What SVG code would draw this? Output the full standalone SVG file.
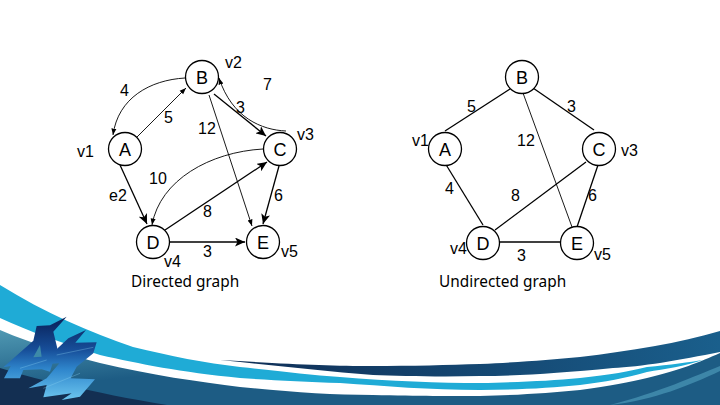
<svg xmlns="http://www.w3.org/2000/svg" width="720" height="405" viewBox="0 0 720 405">
<style>
.n{fill:#fff;stroke:#000;stroke-width:1.3}
.t{font-family:"Liberation Sans",Arial,sans-serif;font-size:16px;fill:#000}
.nt{font-family:"Liberation Sans",Arial,sans-serif;font-size:18px;fill:#000;text-anchor:middle}
.cap{font-family:"Noto Sans",sans-serif;font-size:15.4px;fill:#000}
.e{fill:none;stroke:#000;stroke-width:1.3}
.f{fill:none;stroke:#000;stroke-width:.9}
</style>
<defs>
<marker id="a" markerUnits="userSpaceOnUse" markerWidth="11" markerHeight="9" refX="10" refY="4.5" orient="auto"><path d="M0 0L10 4.5L0 9L2.5 4.5Z" fill="#000"/></marker>
<marker id="s" markerUnits="userSpaceOnUse" markerWidth="7" markerHeight="6" refX="6.5" refY="3" orient="auto"><path d="M0 .5L6.5 3L0 5.5Z" fill="#000"/></marker>
<linearGradient id="dk" x1="0" x2="1" y1="0" y2="0"><stop offset="0" stop-color="#0f2d55"/><stop offset="1" stop-color="#1a5f8c"/></linearGradient>
<linearGradient id="up" gradientUnits="userSpaceOnUse" x1="0" y1="330" x2="6" y2="390"><stop offset="0" stop-color="#4f98b2"/><stop offset="1" stop-color="#1d5c84"/></linearGradient>
<linearGradient id="lg" gradientUnits="userSpaceOnUse" x1="0" x2="0" y1="40" y2="270"><stop offset="0" stop-color="#0b2863"/><stop offset=".35" stop-color="#174f9a"/><stop offset=".6" stop-color="#2f86cc"/><stop offset="1" stop-color="#6cc6ef"/></linearGradient>
</defs>
<rect width="720" height="405" fill="#fff"/>
<g id="background">
<path d="M0 285C45 313 90 332 133 347C170 356 205 363 240 367C280 371 310 375 340 377C390 381 440 383 480 383C520 382 550 381 580 378C610 375 630 371 647 367C670 365 690 362 703 360C685 366 665 369 647 372C625 378 605 382 580 385C550 388 515 390 480 390C430 390 385 386 340 383C305 382 270 380 240 378C180 372 140 364 100 355C60 342 30 332 0 318Z" fill="#1fabd6"/>
<path d="M0 330C35 345 70 355 100 363C150 375 200 382 240 387C290 392 330 395 373 395C420 396 450 396 480 396C520 395 550 393 580 390C610 386 630 382 647 378C680 370 700 362 720 353V405H0Z" fill="url(#up)"/>
<path d="M0 368C25 376 45 381 67 385C95 392 130 399 167 405H0Z" fill="#132f52"/>
<path d="M720 366C695 376 660 392 610 405C655 400 690 385 720 371Z" fill="#3d86a8"/>
<path d="M220 360C290 364 330 366 373 366C410 366 450 365 480 364C520 362 550 360 580 357C630 351 680 343 720 331V352C680 360 640 367 613 368C560 373 520 376 480 376C440 377 400 376 373 375C320 371 270 365 220 360Z" fill="url(#dk)"/>
</g>
<g id="logo" transform="translate(0 310) scale(.3333)">
<path d="M110 48L150 46L200 20L160 65L172 115L150 185L125 178L70 180L60 205L12 205L32 168L10 172L100 92Z" fill="url(#lg)"/>
<path d="M100 142L120 105L125 140Z" fill="#3d8aa8"/>
<path d="M165 122L205 85L258 60L226 98L290 97L280 130L230 170L212 205L285 208L240 260L185 270L215 250L130 262L140 225L85 235L140 205L178 160L140 162Z" fill="url(#lg)"/>
<path d="M60 175L140 150M170 135L280 112M130 235L240 190" stroke="#8fd4f4" stroke-width="2.500" fill="none" opacity=".4"/>
</g>
<g id="connectors">
<path class="f" marker-end="url(#s)" d="M185 78C150 80 118 98 113 135"/>
<path class="f" marker-end="url(#s)" d="M137 137L186 88"/>
<path class="e" marker-end="url(#a)" d="M214 94L266 136"/>
<path class="f" marker-end="url(#s)" d="M286 131C262 130 232 118 219 78"/>
<path class="f" marker-end="url(#s)" d="M209 95L252 226"/>
<path class="f" marker-end="url(#s)" d="M263 149C210 152 160 180 152 225"/>
<path class="e" marker-end="url(#a)" d="M165 230L267 162"/>
<path class="e" marker-end="url(#a)" d="M120 165L147 224"/>
<path class="e" marker-end="url(#a)" d="M279 166L263 224"/>
<path class="e" marker-end="url(#a)" d="M170 242L245 242"/>
<path class="e" d="M510 89L445 131"/>
<path class="e" d="M533 88L594 130"/>
<path class="f" d="M523 93L572 227"/>
<path class="e" d="M495 230L586 162"/>
<path class="e" d="M445 163L483 225"/>
<path class="e" d="M598 165L577 227"/>
<path class="e" d="M500 242L560 242"/>
</g>
<g id="dir-A"><circle class="n" cx="125" cy="149" r="16.5"/><text class="nt" x="125" y="155.500">A</text></g>
<g id="dir-B"><circle class="n" cx="202" cy="77" r="16.5"/><text class="nt" x="202" y="83.500">B</text></g>
<g id="dir-C"><circle class="n" cx="280" cy="149" r="16.5"/><text class="nt" x="280" y="155.500">C</text></g>
<g id="dir-D"><circle class="n" cx="153" cy="242" r="16.5"/><text class="nt" x="153" y="248.500">D</text></g>
<g id="dir-E"><circle class="n" cx="263" cy="242" r="16.5"/><text class="nt" x="263" y="248.500">E</text></g>
<g id="und-A"><circle class="n" cx="445" cy="149" r="16.5"/><text class="nt" x="445" y="155.500">A</text></g>
<g id="und-B"><circle class="n" cx="522" cy="77" r="16.5"/><text class="nt" x="522" y="83.500">B</text></g>
<g id="und-C"><circle class="n" cx="599" cy="149" r="16.5"/><text class="nt" x="599" y="155.500">C</text></g>
<g id="und-D"><circle class="n" cx="483" cy="243" r="16.5"/><text class="nt" x="483" y="249.500">D</text></g>
<g id="und-E"><circle class="n" cx="577" cy="243" r="16.5"/><text class="nt" x="577" y="249.500">E</text></g>
<g id="labels">
<text class="t" x="120" y="96">4</text><text class="t" x="164" y="123">5</text><text class="t" x="225" y="68">v2</text><text class="t" x="263" y="90">7</text><text class="t" x="236" y="113">3</text><text class="t" x="198" y="134">12</text><text class="t" x="297" y="140">v3</text><text class="t" x="77" y="157">v1</text><text class="t" x="149" y="184">10</text><text class="t" x="109" y="201">e2</text><text class="t" x="274" y="201">6</text><text class="t" x="203" y="217">8</text><text class="t" x="203" y="257">3</text><text class="t" x="164" y="267">v4</text><text class="t" x="281" y="257">v5</text>
<text class="cap" x="131" y="287">Directed graph</text>
<text class="t" x="467" y="112">5</text><text class="t" x="567" y="112">3</text><text class="t" x="517" y="146">12</text><text class="t" x="412" y="146">v1</text><text class="t" x="621" y="156">v3</text><text class="t" x="445" y="194">4</text><text class="t" x="511" y="201">8</text><text class="t" x="588" y="201">6</text><text class="t" x="450" y="254">v4</text><text class="t" x="517" y="261">3</text><text class="t" x="594" y="260">v5</text>
<text class="cap" x="439" y="287">Undirected graph</text>
</g>
</svg>
